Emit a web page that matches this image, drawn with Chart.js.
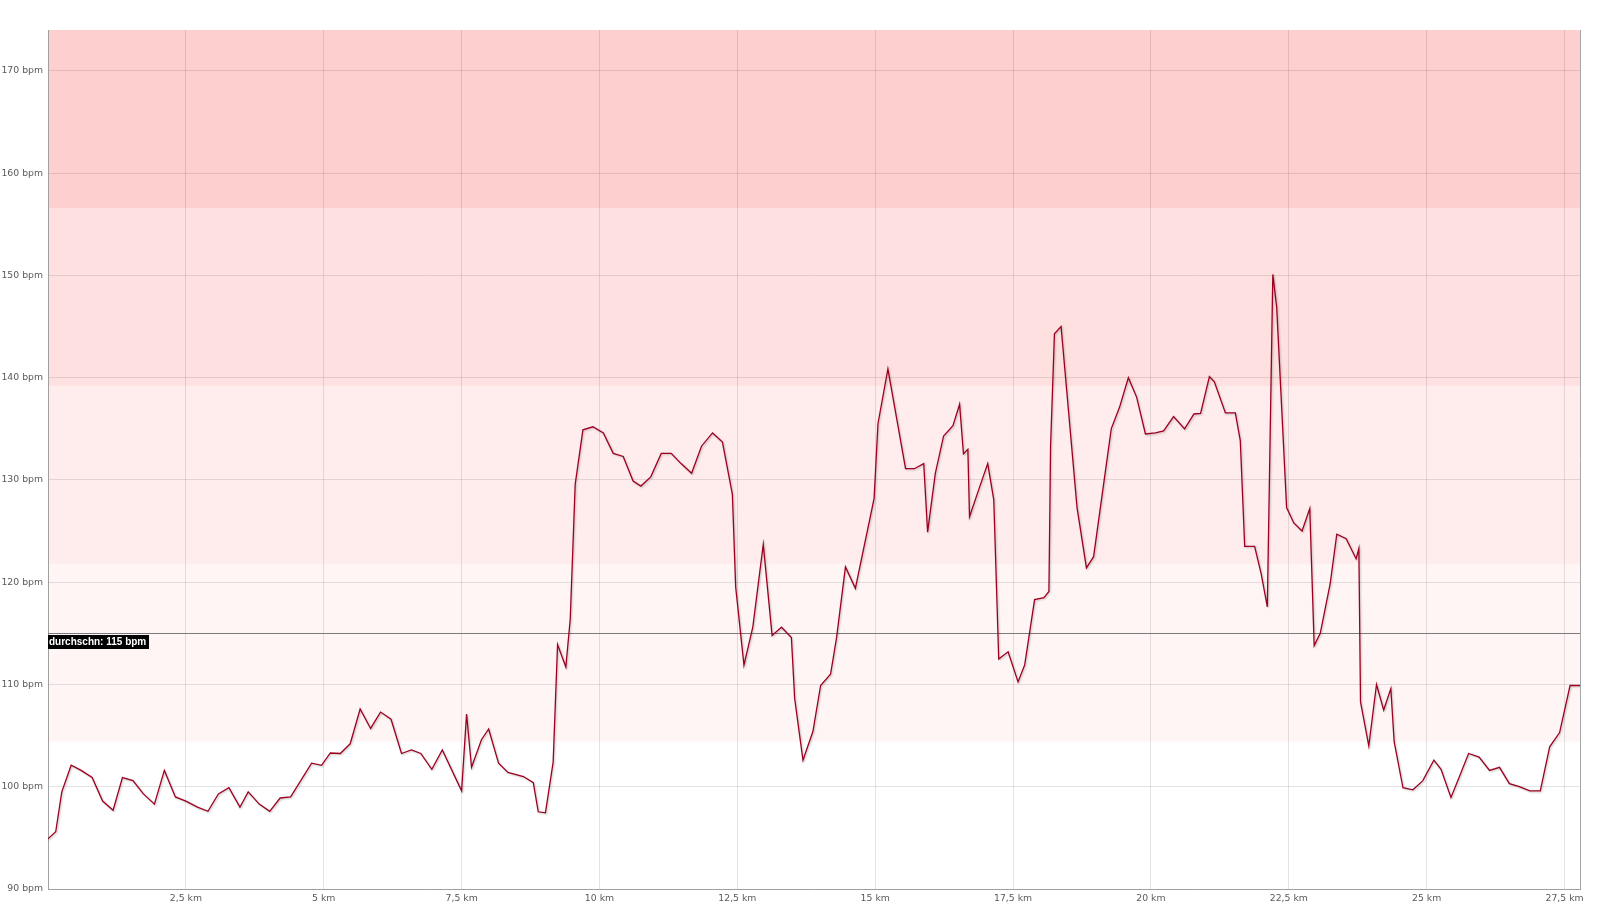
<!DOCTYPE html>
<html lang="de">
<head>
<meta charset="utf-8">
<title>Herzfrequenz</title>
<script src="https://cdn.jsdelivr.net/npm/chart.js@4"></script>
<style>
  html, body { margin: 0; padding: 0; background: #fff; }
  #wrap { width: 1600px; height: 905px; position: relative; }
</style>
</head>
<body>
<div id="wrap"><canvas id="hfChart"></canvas></div>
<script>
// ===============================
// DATA
// ===============================
const distKm = [
  0.00, 0.14, 0.25, 0.42, 0.60, 0.80, 0.99, 1.18, 1.35, 1.54, 1.73, 1.93, 2.11, 2.31, 2.50,
  2.71, 2.90, 3.09, 3.28, 3.48, 3.63, 3.83, 4.02, 4.21, 4.40, 4.78, 4.96, 5.12, 5.30, 5.48,
  5.66, 5.85, 6.03, 6.22, 6.41, 6.59, 6.76, 6.96, 7.15, 7.50, 7.59, 7.68, 7.86, 7.99, 8.17,
  8.34, 8.62, 8.80, 8.89, 9.02, 9.16, 9.24, 9.39, 9.47, 9.56, 9.70, 9.88, 10.07, 10.25, 10.43,
  10.61, 10.75, 10.93, 11.12, 11.30, 11.48, 11.67, 11.85, 12.05, 12.23, 12.41, 12.47, 12.62, 12.78, 12.97,
  13.13, 13.30, 13.48, 13.54, 13.69, 13.87, 14.01, 14.19, 14.30, 14.46, 14.64, 14.98, 15.05, 15.23, 15.55,
  15.71, 15.88, 15.95, 16.09, 16.24, 16.41, 16.53, 16.60, 16.68, 16.71, 16.88, 17.04, 17.15, 17.24, 17.41,
  17.59, 17.71, 17.89, 18.06, 18.15, 18.18, 18.25, 18.37, 18.66, 18.83, 18.96, 19.28, 19.43, 19.59, 19.74,
  19.90, 20.08, 20.23, 20.41, 20.61, 20.78, 20.90, 21.06, 21.15, 21.35, 21.53, 21.62, 21.70, 21.88, 22.00,
  22.11, 22.21, 22.28, 22.46, 22.59, 22.74, 22.88, 22.96, 23.07, 23.25, 23.37, 23.54, 23.72, 23.77, 23.80,
  23.95, 24.09, 24.22, 24.35, 24.41, 24.57, 24.75, 24.93, 25.13, 25.26, 25.44, 25.58, 25.76, 25.95, 26.14,
  26.32, 26.50, 26.68, 26.87, 27.06, 27.23, 27.41, 27.60, 27.78
];

const bpm = [
  94.9, 95.6, 99.5, 102.1, 101.6, 100.9, 98.6, 97.7, 100.9, 100.6, 99.3, 98.3, 101.6, 99.0, 98.6,
  98.0, 97.6, 99.3, 99.9, 98.0, 99.5, 98.3, 97.6, 98.9, 99.0, 102.3, 102.1, 103.3, 103.25, 104.2,
  107.6, 105.7, 107.3, 106.6, 103.25, 103.6, 103.25, 101.7, 103.6, 99.6, 107.1, 101.9, 104.6, 105.65, 102.3,
  101.4, 101.0, 100.4, 97.55, 97.45, 102.4, 113.9, 111.7, 116.4, 129.6, 134.9, 135.2, 134.6, 132.6, 132.3,
  129.9, 129.4, 130.3, 132.6, 132.6, 131.6, 130.65, 133.3, 134.6, 133.7, 128.6, 119.5, 111.9, 115.6, 123.7,
  114.8, 115.6, 114.6, 108.6, 102.6, 105.4, 109.9, 111.0, 114.6, 121.5, 119.4, 128.2, 135.5, 140.85, 131.1,
  131.1, 131.6, 124.9, 130.65, 134.3, 135.3, 137.4, 132.55, 133.0, 126.4, 129.1, 131.6, 128.05, 112.5, 113.2,
  110.25, 111.9, 118.3, 118.5, 119.1, 133.3, 144.3, 145.0, 127.3, 121.4, 122.5, 135.0, 137.1, 140.0, 138.1,
  134.5, 134.6, 134.8, 136.2, 135.0, 136.45, 136.5, 140.1, 139.6, 136.55, 136.55, 133.85, 123.5, 123.5, 120.8,
  117.6, 150.1, 146.9, 127.3, 125.8, 125.0, 127.2, 113.8, 115.0, 119.85, 124.7, 124.25, 122.3, 123.3, 108.3,
  104.0, 110.0, 107.5, 109.6, 104.4, 99.9, 99.7, 100.6, 102.6, 101.7, 98.95, 100.8, 103.25, 102.9, 101.6,
  101.9, 100.3, 100.0, 99.6, 99.6, 103.9, 105.3, 109.9, 109.9
];

// Pulszonen (60/70/80/90/100 % von 174 bpm)
const zoneLimits = [104.4, 121.8, 139.2, 156.6, 174];
const zoneColors = [
  "rgba(255, 0, 0, 0.040)",
  "rgba(255, 0, 0, 0.075)",
  "rgba(245, 0, 0, 0.120)",
  "rgba(245, 0, 0, 0.190)"
];

const avgBpm = 115;
const avgLabel = "durchschn: 115 bpm";

const yTicks = [90, 100, 110, 120, 130, 140, 150, 160, 170];
const xTicks = [2.5, 5, 7.5, 10, 12.5, 15, 17.5, 20, 22.5, 25, 27.5];

const yMin = 90;
const yMax = 174;
const xMax = 27.78;

// ===============================
// PLUGINS
// ===============================
const zonePlugin = {
  id: "zonen",
  beforeDraw(chart) {
    const { ctx, chartArea, scales } = chart;
    ctx.save();
    for (let i = 0; i < zoneColors.length; i++) {
      const yTop = scales.y.getPixelForValue(zoneLimits[i + 1]);
      const yBot = scales.y.getPixelForValue(zoneLimits[i]);
      ctx.fillStyle = zoneColors[i];
      ctx.fillRect(chartArea.left, yTop, chartArea.right - chartArea.left, yBot - yTop);
    }
    ctx.restore();
  }
};

const avgPlugin = {
  id: "durchschnitt",
  beforeDatasetsDraw(chart) {
    const { ctx, chartArea, scales } = chart;
    const y = Math.round(scales.y.getPixelForValue(avgBpm)) + 0.5;
    ctx.save();
    ctx.strokeStyle = "#7a7a7a";
    ctx.lineWidth = 1;
    ctx.beginPath();
    ctx.moveTo(chartArea.left, y);
    ctx.lineTo(chartArea.right, y);
    ctx.stroke();

    // rechter Rahmen
    ctx.strokeStyle = "#a8a8a8";
    ctx.beginPath();
    ctx.moveTo(chartArea.right + 0.5, chartArea.top);
    ctx.lineTo(chartArea.right + 0.5, chartArea.bottom);
    ctx.stroke();
    ctx.restore();
  },
  afterDatasetsDraw(chart) {
    const { ctx, chartArea, scales } = chart;
    const y = Math.round(scales.y.getPixelForValue(avgBpm));
    ctx.save();
    ctx.fillStyle = "#000";
    ctx.fillRect(chartArea.left, y + 2, 101, 14);
    ctx.fillStyle = "#fff";
    ctx.font = "bold 10px 'Liberation Sans', Arial, sans-serif";
    ctx.textBaseline = "middle";
    ctx.fillText(avgLabel, chartArea.left + 1, y + 9.5);
    ctx.restore();
  }
};

const shadowPlugin = {
  id: "schatten",
  beforeDatasetDraw(chart) {
    const ctx = chart.ctx;
    ctx.save();
    ctx.shadowColor = "rgba(0, 0, 0, 0.25)";
    ctx.shadowBlur = 2;
    ctx.shadowOffsetX = 1;
    ctx.shadowOffsetY = 1;
  },
  afterDatasetDraw(chart) {
    chart.ctx.restore();
  }
};

// ===============================
// CHART
// ===============================
const tickFont = { family: "'DejaVu Sans', Verdana, sans-serif", size: 9.3 };

const punkte = distKm.map((d, i) => ({ x: d, y: bpm[i] }));

new Chart(document.getElementById("hfChart"), {
  type: "line",
  data: {
    datasets: [{
      label: "Herzfrequenz",
      data: punkte,
      borderColor: "#9c0020",
      borderWidth: 1.3,
      pointRadius: 0,
      tension: 0,
      fill: false
    }]
  },
  options: {
    responsive: true,
    maintainAspectRatio: false,
    animation: false,
    layout: { padding: { top: 30, right: 20, left: 0, bottom: 0 } },
    plugins: {
      legend: { display: false },
      tooltip: { enabled: false }
    },
    scales: {
      x: {
        type: "linear",
        min: 0,
        max: xMax,
        afterBuildTicks: s => { s.ticks = xTicks.map(v => ({ value: v })); },
        afterFit: s => { s.height = 16; },
        grid: { color: "rgba(0, 0, 0, 0.11)", drawTicks: false },
        border: { color: "#a0a0a0" },
        ticks: {
          font: tickFont,
          color: "#5a5a5a",
          padding: 4,
          maxRotation: 0,
          autoSkip: false,
          callback: v => String(v).replace(".", ",") + " km"
        }
      },
      y: {
        type: "linear",
        min: yMin,
        max: yMax,
        afterBuildTicks: s => { s.ticks = yTicks.map(v => ({ value: v })); },
        afterFit: s => { s.width = 48; },
        grid: { color: "rgba(0, 0, 0, 0.11)", drawTicks: false },
        border: { color: "#a0a0a0" },
        ticks: {
          font: tickFont,
          color: "#5a5a5a",
          padding: 5,
          callback: v => v + " bpm"
        }
      }
    }
  },
  plugins: [zonePlugin, avgPlugin, shadowPlugin]
});
</script>
</body>
</html>
